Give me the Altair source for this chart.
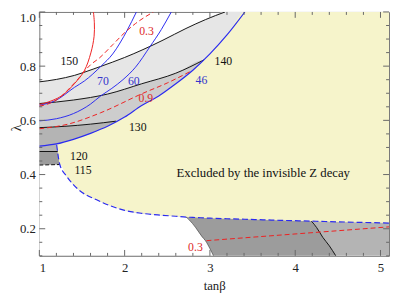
import altair as alt
import pandas as pd

X_DOMAIN = [1.0, 5.1]
Y_DOMAIN = [0.1, 1.0]
X_MAJOR = [1, 2, 3, 4, 5]
X_MINOR = [1.2, 1.4, 1.6, 1.8, 2.2, 2.4, 2.6, 2.8, 3.2, 3.4, 3.6, 3.8, 4.2, 4.4, 4.6, 4.8]
Y_MAJOR = [0.2, 0.4, 0.6, 0.8, 1.0]
Y_MINOR = [0.1, 0.15, 0.25, 0.3, 0.35, 0.45, 0.5, 0.55, 0.65, 0.7, 0.75, 0.85, 0.9, 0.95]

# Higgs-mass contours (black)
H150_X = [1.0, 1.2, 1.413, 1.63, 1.719, 2.0, 2.215, 2.45, 2.719, 2.95, 3.178]
H150_Y = [0.742, 0.751, 0.766, 0.789, 0.799, 0.832, 0.861, 0.896, 0.939, 0.972, 1.0]
H140_X = [1.0, 1.4, 1.8, 2.2, 2.6, 2.93]
H140_Y = [0.662, 0.675, 0.697, 0.735, 0.774, 0.823]
H130_X = [1.0, 1.3, 1.6, 1.9]
H130_Y = [0.573, 0.578, 0.586, 0.597]
H120_X = [1.0, 1.215]
H120_Y = [0.485, 0.485]
H115_X = [1.0, 1.24]
H115_Y = [0.435, 0.437]
H120B_X = [4.19, 4.25, 4.324, 4.4, 4.476]
H120B_Y = [0.228, 0.205, 0.168, 0.137, 0.1]
ARC_X = [2.72, 2.76, 2.834, 2.91, 2.948, 3.0, 3.043]
ARC_Y = [0.243, 0.232, 0.204, 0.17, 0.156, 0.127, 0.1]

# blue contours
B46_X = [1.0, 1.2, 1.4, 1.6, 1.8, 2.0, 2.2, 2.4, 2.6, 2.8, 3.0, 3.2, 3.41]
B46_Y = [0.505, 0.513, 0.53, 0.552, 0.578, 0.612, 0.655, 0.69, 0.735, 0.785, 0.845, 0.915, 1.0]
B60_X = [1.0, 1.2, 1.4, 1.6, 1.719, 1.85, 1.98, 2.127, 2.299, 2.43, 2.547]
B60_Y = [0.598, 0.606, 0.625, 0.66, 0.69, 0.718, 0.75, 0.796, 0.873, 0.935, 1.0]
B70_X = [1.0, 1.183, 1.413, 1.527, 1.727, 1.86, 2.031, 2.138]
B70_Y = [0.656, 0.672, 0.722, 0.745, 0.801, 0.845, 0.933, 1.0]
# invisible Z decay boundary (blue dashed)
Z_X = [1.203, 1.24, 1.317, 1.45, 1.69, 2.0, 2.2, 2.43, 2.6, 2.72, 2.8, 3.0, 3.2, 3.41, 4.19, 5.1]
Z_Y = [0.51, 0.437, 0.395, 0.347, 0.304, 0.268, 0.257, 0.25, 0.246, 0.243, 0.242, 0.239, 0.237, 0.235, 0.228, 0.221]
Z_TOP = [0.513, 0.516, 0.522, 0.535, 0.563, 0.612, 0.655, 0.697, 0.735, 0.765, 0.785, 0.845, 0.915, 1.0, 1.0, 1.0]

# red contours
R_SOLID_X = [1.0, 1.07, 1.26, 1.413, 1.527, 1.604, 1.642, 1.645, 1.634]
R_SOLID_Y = [0.659, 0.664, 0.69, 0.736, 0.783, 0.849, 0.91, 0.96, 1.0]
R03_X = [1.0, 1.2, 1.413, 1.6, 1.707, 1.86, 2.012, 2.127, 2.337]
R03_Y = [0.652, 0.675, 0.738, 0.805, 0.831, 0.879, 0.927, 0.957, 1.0]
R09_X = [1.0, 1.336, 1.719, 2.215, 2.5, 2.78]
R09_Y = [0.569, 0.586, 0.628, 0.70, 0.738, 0.782]
R03B_X = [2.96, 5.1]
R03B_Y = [0.156, 0.207]

# shaded bands (top edges; hidden continuations run under the yellow)
A_X = H150_X + [5.1]
A_Y = H150_Y + [1.0]
B_X = H140_X + [2.95, 5.1]
B_Y = H140_Y + [0.5, 0.5]
C_X = H130_X + [1.95, 5.1]
C_Y = H130_Y + [0.5, 0.5]
D_X = [1.0, 1.215, 1.25, 1.3, 4.15] + H120B_X
D_Y = [0.485, 0.485, 0.45, 0.3, 0.3] + H120B_Y
W_X = [1.0, 1.24, 1.317, 1.45, 1.69, 2.0, 2.43] + ARC_X
W_Y = [0.435, 0.437, 0.395, 0.347, 0.304, 0.268, 0.25] + ARC_Y

LABELS = ["150", "140", "130", "120", "115", "70", "60", "46", "0.3", "0.9", "0.3"]
LABEL_X = [1.35, 3.158, 2.154, 1.464, 1.512, 1.745, 2.108, 2.9, 2.257, 2.249, 2.83]
LABEL_Y = [0.817, 0.817, 0.577, 0.468, 0.416, 0.745, 0.745, 0.748, 0.928, 0.682, 0.133]
LABEL_C = ["#111111"] * 5 + ["#3333cc"] * 3 + ["#dd2a2a"] * 3
NOTE = ["Excluded by the invisible Z decay"]
NOTE_X = [3.625]
NOTE_Y = [0.404]

BLUE = "#2b2bf0"
RED = "#ee2020"
FONT = "Liberation Serif"
W, H = 357, 249

xs = alt.Scale(domain=X_DOMAIN, nice=False, zero=False)
ys = alt.Scale(domain=Y_DOMAIN, nice=False, zero=False)
xaxis = alt.Axis(values=X_MAJOR, format="d", ticks=False, domain=False, grid=False,
                 labelFont=FONT, labelFontSize=13, labelColor="#222", labelPadding=6,
                 titleFont=FONT, titleFontSize=13, titleFontWeight="normal",
                 titleColor="#222", titlePadding=5)
yaxis = alt.Axis(values=Y_MAJOR, format=".1f", ticks=False, domain=False, grid=False,
                 labelFont=FONT, labelFontSize=13, labelColor="#222", labelPadding=4,
                 labelFlush=True,
                 titleFont=FONT, titleFontSize=14, titleFontWeight="normal",
                 titleColor="#222", titleAngle=270, titleBaseline="bottom",
                 titleAlign="center", titleX=-16, titleY=118)
X = alt.X("x:Q", scale=xs, axis=xaxis, title="tanβ")
Y = alt.Y("y:Q", scale=ys, axis=yaxis, title="λ", stack=None)


def band(xv, yv, color):
    df = pd.DataFrame({"x": xv, "y": yv})
    return alt.Chart(df).mark_area(color=color, interpolate="monotone", orient="vertical",
                                   clip=True).encode(x=X, y=Y, y2=alt.datum(0.1))


def curve(xv, yv, color, dash=None, width=1.0, interp="monotone"):
    df = pd.DataFrame({"x": xv, "y": yv, "i": list(range(len(xv)))})
    kw = dict(color=color, strokeWidth=width, interpolate=interp, clip=True)
    if dash:
        kw["strokeDash"] = dash
    return alt.Chart(df).mark_line(**kw).encode(x=X, y=Y, order="i:Q")


yellow = alt.Chart(pd.DataFrame({"x": Z_X, "y": Z_TOP, "lo": Z_Y})).mark_area(
    color="#f6f4cb", interpolate="monotone", orient="vertical", clip=True
).encode(x=X, y=Y, y2="lo:Q")

layers = [
    band(A_X, A_Y, "#e6e6e6"),
    band(B_X, B_Y, "#cdcdcd"),
    band(C_X, C_Y, "#b4b4b4"),
    band(D_X, D_Y, "#9c9c9c"),
    yellow,
    band(W_X, W_Y, "#ffffff"),
    curve(ARC_X, ARC_Y, "#555555", width=0.8),
    curve(H150_X, H150_Y, "#111111"),
    curve(H140_X, H140_Y, "#111111"),
    curve(H130_X, H130_Y, "#111111"),
    curve(H120_X, H120_Y, "#111111"),
    curve(H115_X, H115_Y, "#111111", dash=[4, 2]),
    curve(H120B_X, H120B_Y, "#111111"),
    curve(B46_X, B46_Y, BLUE, width=1.2),
    curve(B60_X, B60_Y, BLUE),
    curve(B70_X, B70_Y, BLUE),
    curve(Z_X, Z_Y, BLUE, dash=[6, 3], width=1.2),
    curve(R_SOLID_X, R_SOLID_Y, RED, interp="catmull-rom"),
    curve(R03_X, R03_Y, RED, dash=[5, 3]),
    curve(R09_X, R09_Y, RED, dash=[5, 3]),
    curve(R03B_X, R03B_Y, RED, dash=[5, 3]),
]

text_df = pd.DataFrame({"x": LABEL_X, "y": LABEL_Y, "t": LABELS, "c": LABEL_C})
layers.append(
    alt.Chart(text_df).mark_text(font=FONT, fontSize=12, align="center", baseline="middle")
    .encode(x=X, y=Y, text="t:N", color=alt.Color("c:N", scale=None))
)
note_df = pd.DataFrame({"x": NOTE_X, "y": NOTE_Y, "t": NOTE})
layers.append(
    alt.Chart(note_df).mark_text(font=FONT, fontSize=13, align="center", baseline="middle",
                                 color="#111111")
    .encode(x=X, y=Y, text="t:N")
)

TICK = "#666666"
xmaj = pd.DataFrame({"x": X_MAJOR})
xmin = pd.DataFrame({"x": X_MINOR})
ymaj = pd.DataFrame({"y": Y_MAJOR})
ymin = pd.DataFrame({"y": Y_MINOR})
for df, ln in [(xmaj, 6), (xmin, 3)]:
    layers.append(alt.Chart(df).mark_rule(color=TICK, strokeWidth=1).encode(
        x=X, y=alt.value(H), y2=alt.value(H - ln)))
    layers.append(alt.Chart(df).mark_rule(color=TICK, strokeWidth=1).encode(
        x=X, y=alt.value(0), y2=alt.value(ln)))
for df, ln in [(ymaj, 6), (ymin, 3)]:
    layers.append(alt.Chart(df).mark_rule(color=TICK, strokeWidth=1).encode(
        y=Y, x=alt.value(0), x2=alt.value(ln)))
    layers.append(alt.Chart(df).mark_rule(color=TICK, strokeWidth=1).encode(
        y=Y, x=alt.value(W), x2=alt.value(W - ln)))

chart = alt.layer(*layers).properties(
    width=W, height=H,
    autosize=alt.AutoSizeParams(type="none"),
    padding={"left": 32, "top": 1, "right": 1, "bottom": 40},
).configure_view(stroke="#777777", strokeWidth=1)

chart.save("out.html", embed_options={"renderer": "svg", "actions": False})
